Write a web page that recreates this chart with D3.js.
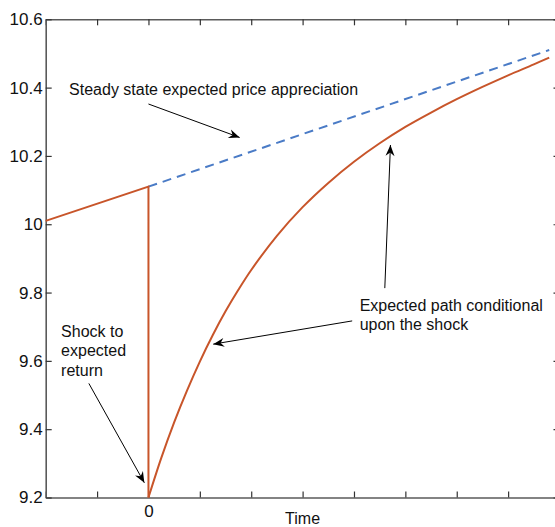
<!DOCTYPE html>
<html>
<head>
<meta charset="utf-8">
<script src="https://cdn.jsdelivr.net/npm/d3@7/dist/d3.min.js"></script>
<style>
  html, body { margin: 0; padding: 0; background: #fff; }
  svg { display: block; }
  text { font-family: "Liberation Sans", Arial, Helvetica, sans-serif; fill: #111; }
</style>
</head>
<body>
<script>
// ---- data ----
const preShockT = [-2, 0];
const preShockV = [10.01, 10.11];

const steadyT = [0, 7.8];
const steadyV = [10.11, 10.51];

const shockT = [0, 0.25, 0.5, 0.75, 1, 1.25, 1.5, 1.75, 2, 2.5, 3, 3.5, 4, 4.5, 5, 5.5, 6, 6.5, 7, 7.5, 7.8];
const shockV = [9.20, 9.316, 9.42, 9.513, 9.598, 9.675, 9.745, 9.808, 9.866, 9.966, 10.05, 10.121, 10.183, 10.237, 10.285, 10.327, 10.366, 10.402, 10.436, 10.468, 10.488];

const xTicks = [-2, -1, 0, 1, 2, 3, 4, 5, 6, 7, 8];
const yTicks = [9.2, 9.4, 9.6, 9.8, 10, 10.2, 10.4, 10.6];
const xDomain = [-2, 8];
const yDomain = [9.2, 10.6];

// annotations (data coordinates)
const noteSteady = { text: ["Steady state expected price appreciation"], t: -1.545, v: 10.396 };
const noteShock = { text: ["Shock to", "expected", "return"], t: -1.70, v: 9.687 };
const notePath = { text: ["Expected path conditional", "upon the shock"], t: 4.11, v: 9.764 };
const arrows = [
  { from: [0.0, 10.352], to: [1.775, 10.254] },
  { from: [-1.16, 9.534], to: [-0.08, 9.243] },
  { from: [3.965, 9.717], to: [1.26, 9.649] },
  { from: [4.60, 9.813], to: [4.71, 10.232] }
];

// ---- layout ----
const W = 555, H = 527;
const mLeft = 45.7, mRight = 559.5, mTop = 19.3, mBottom = 497.5;

const svg = d3.select("body").append("svg").attr("width", W).attr("height", H);

const x = d3.scaleLinear().domain(xDomain).range([mLeft, mRight]);
const y = d3.scaleLinear().domain(yDomain).range([mBottom, mTop]);

const axisColor = "#5a5a5a";
function styleAxis(g) {
  g.select(".domain").attr("stroke", axisColor).attr("stroke-width", 1.6);
  g.selectAll(".tick line").attr("stroke", "#333").attr("stroke-width", 1.2);
  g.selectAll(".tick text").attr("font-family", "Liberation Sans, Arial, sans-serif").attr("font-size", 17).attr("fill", "#111");
}

svg.append("g").attr("transform", `translate(0,${mBottom})`)
  .call(d3.axisBottom(x).tickValues(xTicks).tickSize(-6).tickSizeOuter(0).tickPadding(7)
    .tickFormat(d => d === 0 ? "0" : ""))
  .call(styleAxis);
svg.append("g").attr("transform", `translate(0,${mTop})`)
  .call(d3.axisTop(x).tickValues(xTicks).tickSize(-6).tickSizeOuter(0).tickFormat(""))
  .call(styleAxis);
svg.append("g").attr("transform", `translate(${mLeft},0)`)
  .call(d3.axisLeft(y).tickValues(yTicks).tickSize(-6).tickSizeOuter(0).tickPadding(3)
    .tickFormat(d => String(+d.toFixed(1))))
  .call(styleAxis);
svg.append("g").attr("transform", `translate(${mRight},0)`)
  .call(d3.axisRight(y).tickValues(yTicks).tickSize(-6).tickSizeOuter(0).tickFormat(""))
  .call(styleAxis);

// x label
svg.append("text").attr("x", (mLeft + mRight) / 2).attr("y", 524)
  .attr("text-anchor", "middle").attr("font-size", 16).text("Time");

// ---- lines ----
const red = "#C8552A", blue = "#4A7BC6";
const line = d3.line().x(d => x(d[0])).y(d => y(d[1]));

svg.append("path").datum(steadyT.map((t, i) => [t, steadyV[i]]))
  .attr("d", line).attr("fill", "none").attr("stroke", blue)
  .attr("stroke-width", 2).attr("stroke-dasharray", "9,6");

svg.append("path").datum(preShockT.map((t, i) => [t, preShockV[i]]).concat([[0, shockV[0]]]))
  .attr("d", line).attr("fill", "none").attr("stroke", red).attr("stroke-width", 2);

svg.append("path").datum(shockT.map((t, i) => [t, shockV[i]]))
  .attr("d", d3.line().x(d => x(d[0])).y(d => y(d[1])).curve(d3.curveCatmullRom.alpha(0.5)))
  .attr("fill", "none").attr("stroke", red).attr("stroke-width", 2);

// ---- annotations ----
svg.append("defs").append("marker").attr("id", "arr")
  .attr("viewBox", "-12 -6 14 12").attr("refX", 0).attr("refY", 0)
  .attr("markerWidth", 14).attr("markerHeight", 12).attr("markerUnits", "userSpaceOnUse")
  .attr("orient", "auto")
  .append("path").attr("d", "M0,0 L-11,-4.5 L-7.5,0 L-11,4.5 Z").attr("fill", "#000");

arrows.forEach(a => {
  svg.append("line")
    .attr("x1", x(a.from[0])).attr("y1", y(a.from[1]))
    .attr("x2", x(a.to[0])).attr("y2", y(a.to[1]))
    .attr("stroke", "#000").attr("stroke-width", 1)
    .attr("marker-end", "url(#arr)");
});

[noteSteady, noteShock, notePath].forEach(n => {
  const t = svg.append("text").attr("x", x(n.t)).attr("y", y(n.v))
    .attr("font-size", 16).attr("dominant-baseline", "central");
  n.text.forEach((s, i) => {
    t.append("tspan").attr("x", x(n.t)).attr("dy", i === 0 ? 0 : 19.3).text(s);
  });
});
</script>
</body>
</html>
